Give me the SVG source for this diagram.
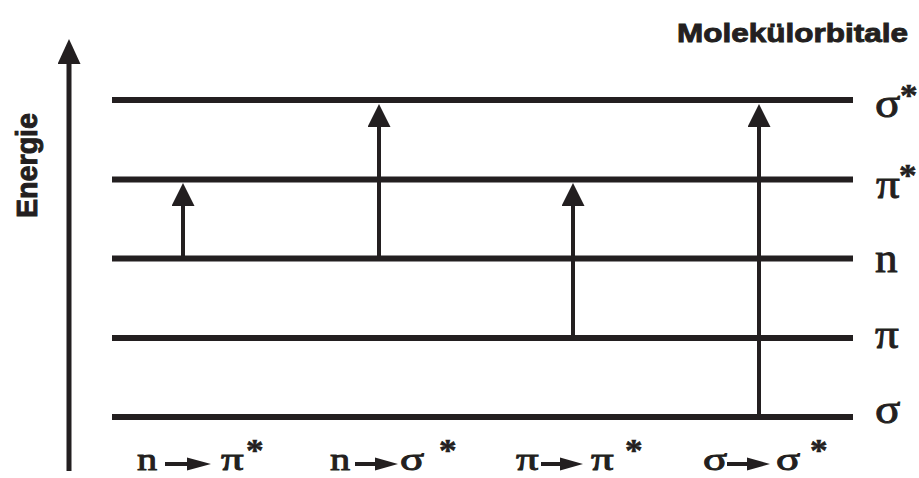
<svg xmlns="http://www.w3.org/2000/svg" width="919" height="478" viewBox="0 0 919 478">
<defs>
<style>
.lvl{stroke:#231f20;stroke-width:6;fill:none}
.tr{stroke:#231f20;stroke-width:4;fill:none}
.ax{stroke:#231f20;stroke-width:5;fill:none}
.ink{fill:#231f20}
.sym{font-family:"Liberation Serif","Times New Roman",serif;fill:#231f20;stroke:#231f20;stroke-width:0.9}
.big{font-size:41px}
.small{font-size:31px}
.ast{font-size:32px;font-weight:bold;stroke-width:0.6}
.sans{font-family:"Liberation Sans",Arial,sans-serif;font-weight:bold;fill:#231f20;stroke:#231f20;stroke-width:0.9}
</style>
<marker id="ah" viewBox="0 0 23 23" refX="1" refY="11.5" markerWidth="23" markerHeight="23" markerUnits="userSpaceOnUse" orient="auto">
<path d="M0,0 L23,11.5 L0,23 Z" fill="#231f20"/>
</marker>
<marker id="ahAxis" viewBox="0 0 25 23" refX="1" refY="11.5" markerWidth="25" markerHeight="23" markerUnits="userSpaceOnUse" orient="auto">
<path d="M0,0 L25,11.5 L0,23 Z" fill="#231f20"/>
</marker>
</defs>
<rect width="919" height="478" fill="#ffffff"/>

<g id="axis">
<line class="ax" x1="69" y1="471" x2="69" y2="63" marker-end="url(#ahAxis)"/>
<text class="sans" font-size="29" transform="translate(37 218) rotate(-90)" textLength="105" lengthAdjust="spacingAndGlyphs">Energie</text>
</g>

<g id="title">
<text class="sans" font-size="26" x="677" y="42" textLength="231" lengthAdjust="spacingAndGlyphs">Molekülorbitale</text>
</g>

<g id="level-sigma-star">
<line class="lvl" x1="112" y1="100" x2="853" y2="100"/>
<text class="sym big" transform="translate(875 117) scale(1.15 1)">σ</text>
<text class="sym ast" transform="translate(900 106) scale(1.1 1)">*</text>
</g>
<g id="level-pi-star">
<line class="lvl" x1="112" y1="179.5" x2="853" y2="179.5"/>
<text class="sym big" transform="translate(876 198) scale(1.15 1)">π</text>
<text class="sym ast" transform="translate(899 186) scale(1.1 1)">*</text>
</g>
<g id="level-n">
<line class="lvl" x1="112" y1="258.5" x2="853" y2="258.5"/>
<text class="sym big" transform="translate(875 272) scale(1.1 1)">n</text>
</g>
<g id="level-pi">
<line class="lvl" x1="112" y1="338" x2="853" y2="338"/>
<text class="sym big" transform="translate(875 348) scale(1.15 1)">π</text>
</g>
<g id="level-sigma">
<line class="lvl" x1="112" y1="417" x2="853" y2="417"/>
<text class="sym big" transform="translate(875 423) scale(1.15 1)">σ</text>
</g>

<g id="connectors">
<line class="tr" x1="183" y1="258" x2="183" y2="205" marker-end="url(#ah)"/>
<line class="tr" x1="379" y1="258" x2="379" y2="126" marker-end="url(#ah)"/>
<line class="tr" x1="573" y1="338" x2="573" y2="205" marker-end="url(#ah)"/>
<line class="tr" x1="759" y1="417" x2="759" y2="126" marker-end="url(#ah)"/>
</g>

<g id="label-n-pi-star">
<text class="sym small" transform="translate(137 470) scale(1.3 1)">n</text>
<path class="ink" d="M165,462 L187,462 L187,457.5 L211,464 L187,470.5 L187,466 L165,466 Z"/>
<text class="sym small" transform="translate(221 470) scale(1.45 1)">π</text>
<text class="sym ast" transform="translate(246 461) scale(1.1 1)">*</text>
</g>
<g id="label-n-sigma-star">
<text class="sym small" transform="translate(330 470) scale(1.3 1)">n</text>
<path class="ink" d="M355,462 L375,462 L375,457.5 L398,464 L375,470.5 L375,466 L355,466 Z"/>
<text class="sym small" transform="translate(400 470) scale(1.45 1)">σ</text>
<text class="sym ast" transform="translate(439 461) scale(1.1 1)">*</text>
</g>
<g id="label-pi-pi-star">
<text class="sym small" transform="translate(516 470) scale(1.45 1)">π</text>
<path class="ink" d="M541,462 L560,462 L560,457.5 L583,464 L560,470.5 L560,466 L541,466 Z"/>
<text class="sym small" transform="translate(591 470) scale(1.45 1)">π</text>
<text class="sym ast" transform="translate(625 461) scale(1.1 1)">*</text>
</g>
<g id="label-sigma-sigma-star">
<text class="sym small" transform="translate(703 470) scale(1.45 1)">σ</text>
<path class="ink" d="M727,462 L747,462 L747,457.5 L770,464 L747,470.5 L747,466 L727,466 Z"/>
<text class="sym small" transform="translate(776 470) scale(1.45 1)">σ</text>
<text class="sym ast" transform="translate(810 461) scale(1.1 1)">*</text>
</g>
</svg>
